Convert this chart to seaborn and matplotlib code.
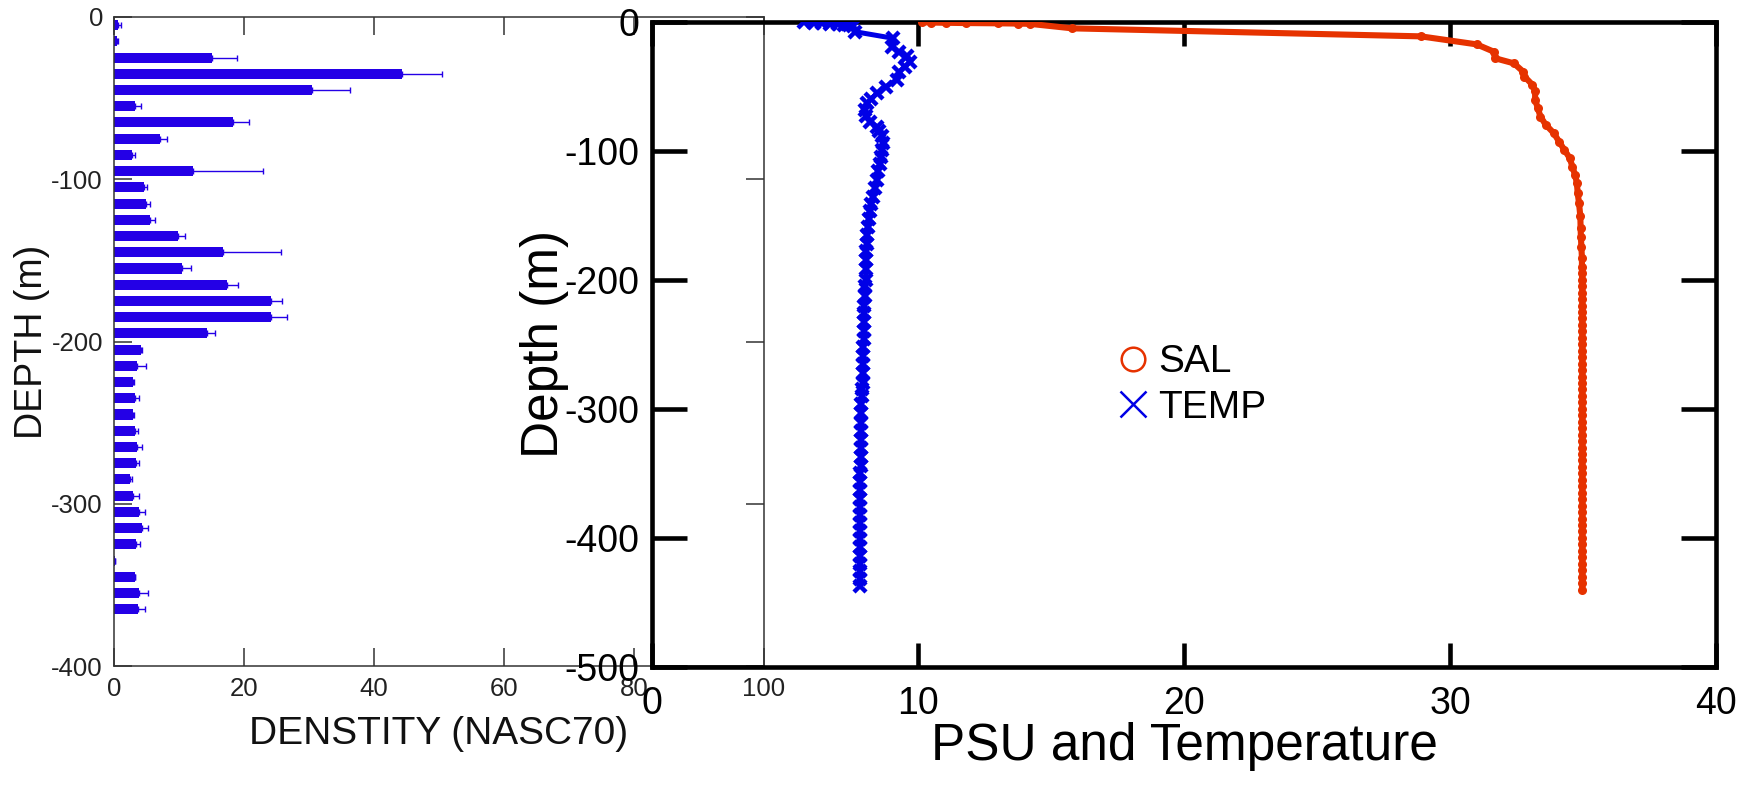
import numpy as np
import pandas as pd
import matplotlib
matplotlib.use("Agg")
import matplotlib.pyplot as plt
import seaborn as sns
from matplotlib.lines import Line2D

# ---------------- data: left panel (acoustic density by 10 m bin) ----------------
bin_depth = [-5, -15, -25, -35, -45, -55, -65, -75, -85, -95,
             -105, -115, -125, -135, -145, -155, -165, -175, -185, -195,
             -205, -215, -225, -235, -245, -255, -265, -275, -285, -295,
             -305, -315, -325, -335, -345, -355, -365]
density = [0.6, 0.4, 15.0, 44.3, 30.5, 3.2, 18.3, 7.0, 2.7, 12.2,
           4.6, 4.9, 5.5, 9.8, 16.8, 10.4, 17.4, 24.2, 24.2, 14.3,
           4.2, 3.6, 2.9, 3.3, 2.9, 3.2, 3.5, 3.4, 2.4, 2.9,
           3.9, 4.3, 3.4, 0.1, 3.2, 3.9, 3.7]
density_err = [0.5, 0.2, 3.9, 6.2, 5.8, 1.0, 2.4, 1.2, 0.6, 10.7,
               0.5, 0.6, 0.8, 1.1, 8.9, 1.5, 1.6, 1.7, 2.4, 1.2,
               0.1, 1.3, 0.2, 0.6, 0.2, 0.5, 0.8, 0.5, 0.3, 1.0,
               0.9, 0.9, 0.6, 0.0, 0.1, 1.3, 1.1]

# ---------------- data: right panel (CTD profile) ----------------
sal_depth = [-0.5, -0.8, -1.0, -1.2, -1.4, -1.6, -1.8, -5.3, -11.5, -17.7,
             -23.4, -28.5, -32.4, -38.8, -42.7, -49.0, -54.0, -60.7, -67.0, -73.7,
             -80.0, -86.4, -93.0, -99.5, -105.7, -112.4, -118.8, -125.0, -133.0, -140.5,
             -151.0, -160.0, -166.6, -175.0, -183.0, -190, -195, -200, -205, -210,
             -215, -220, -225, -230, -235, -240, -245, -250, -255, -260,
             -265, -270, -275, -280, -285, -290, -295, -300, -305, -310,
             -315, -320, -325, -330, -335, -340, -345, -350, -355, -360,
             -365, -370, -375, -380, -385, -390, -395, -400, -405, -410,
             -415, -420, -425, -430, -435, -440]
sal = [10.15, 10.5, 11.05, 11.8, 13.0, 13.76, 14.2, 15.8, 28.9, 31.0,
       31.65, 31.7, 32.4, 32.75, 32.8, 33.1, 33.2, 33.2, 33.3, 33.4,
       33.6, 33.9, 34.1, 34.3, 34.5, 34.6, 34.7, 34.77, 34.8, 34.85,
       34.9, 34.91, 34.92, 34.94, 34.96, 34.96, 34.96, 34.97, 34.97, 34.97,
       34.97, 34.97, 34.97, 34.97, 34.97, 34.97, 34.97, 34.97, 34.97, 34.97,
       34.97, 34.97, 34.97, 34.97, 34.97, 34.97, 34.97, 34.97, 34.97, 34.97,
       34.97, 34.97, 34.97, 34.97, 34.97, 34.97, 34.97, 34.97, 34.97, 34.97,
       34.97, 34.97, 34.97, 34.97, 34.97, 34.97, 34.97, 34.97, 34.97, 34.97,
       34.97, 34.97, 34.97, 34.97, 34.97, 34.97]

temp_depth = [-0.3, -0.8, -1.2, -1.6, -2.0, -2.5, -3.0, -3.5, -7.9, -13.0,
              -19.5, -24.0, -27.0, -31.0, -35.0, -38.9, -45.0, -50.5, -55.7, -60.0,
              -63.3, -68.5, -73.0, -77.5, -81.5, -85.0, -89.0, -94.0, -99.5, -105.0,
              -110.0, -116.0, -123.0, -129.0, -136.0, -141.0, -146.5, -153.0, -159.0, -165.0,
              -172.0, -178.0, -185.0, -192.0, -200.0, -205.0, -213.0, -220.0, -226.0, -233.0,
              -240.0, -246.0, -252.0, -259.0, -265.0, -272.0, -280.0, -285.0, -290.0, -296.0,
              -303.0, -311.0, -317.0, -324.0, -330.0, -337.0, -344.0, -350.0, -357.0, -363.0,
              -370.0, -376.0, -382.0, -388.5, -395.0, -401.0, -407.0, -414.0, -420.0, -426.0,
              -432.0, -437.5]
temp = [5.7, 6.1, 6.4, 6.7, 7.0, 7.2, 7.4, 7.55, 7.63, 9.07,
        9.02, 9.3, 9.6, 9.7, 9.5, 9.3, 9.2, 8.8, 8.45, 8.25,
        8.08, 8.0, 8.05, 8.2, 8.45, 8.55, 8.65, 8.68, 8.65, 8.6,
        8.57, 8.5, 8.45, 8.38, 8.3, 8.25, 8.2, 8.15, 8.12, 8.1,
        8.07, 8.06, 8.05, 8.05, 8.05, 8.02, 8.0, 7.98, 7.98, 7.97,
        7.96, 7.96, 7.95, 7.95, 7.95, 7.95, 7.95, 7.9, 7.88, 7.87,
        7.86, 7.85, 7.85, 7.85, 7.85, 7.85, 7.84, 7.83, 7.83, 7.82,
        7.82, 7.82, 7.82, 7.82, 7.82, 7.82, 7.82, 7.82, 7.82, 7.82,
        7.82, 7.82]

left_xticks = [0, 20, 40, 60, 80, 100]
left_yticks = [0, -100, -200, -300, -400]
right_xticks = [0, 10, 20, 30, 40]
right_yticks = [0, -100, -200, -300, -400, -500]

# ---------------- style ----------------
sns.set_theme(style="white")
plt.rcParams["font.family"] = ["Liberation Sans", "DejaVu Sans"]

BAR_C = "#2400e6"
SAL_C = "#e63200"
TEMP_C = "#0000e6"
GREY = "#333333"

W, H = 1739, 785
fig = plt.figure(figsize=(W / 100, H / 100), dpi=100)
fig.patch.set_facecolor("white")

def frac(x0, y0, x1, y1):
    return [x0 / W, 1 - y1 / H, (x1 - x0) / W, (y1 - y0) / H]

ax1 = fig.add_axes(frac(114, 17, 764, 666))
ax2 = fig.add_axes(frac(652, 21.5, 1716, 667))
ax2.patch.set_alpha(0)

# ---------------- left panel ----------------
df_bar = pd.DataFrame({"depth": bin_depth, "density": density, "err": density_err})
sns.barplot(data=df_bar, x="density", y="depth", orient="h", native_scale=True,
            color=BAR_C, saturation=1, width=0.62, errorbar=None, linewidth=0, ax=ax1)
ax1.errorbar(df_bar["density"], df_bar["depth"],
             xerr=[np.zeros(len(df_bar)), df_bar["err"]],
             fmt="none", ecolor=BAR_C, elinewidth=1.0, capsize=2.0, capthick=1.0)
ax1.set_xlim(0, 100)
ax1.set_ylim(-400, 0)
ax1.set_xticks(left_xticks)
ax1.set_yticks(left_yticks)
ax1.set_xticklabels([str(v) for v in left_xticks])
ax1.set_yticklabels([str(v) for v in left_yticks])
for s in ax1.spines.values():
    s.set_visible(True)
    s.set_color(GREY)
    s.set_linewidth(1.1)
ax1.tick_params(axis="both", direction="in", length=13, width=1.1, color=GREY,
                labelsize=18.5, labelcolor="#222222", top=True, right=True,
                bottom=True, left=True, pad=8)
ax1.set_xlabel("DENSTITY (NASC70)", fontsize=28, color="#111111", labelpad=11)
ax1.set_ylabel("DEPTH (m)", fontsize=27, color="#111111", labelpad=1)
ax1.grid(False)

# ---------------- right panel ----------------
df_sal = pd.DataFrame({"depth": sal_depth, "value": sal})
df_temp = pd.DataFrame({"depth": temp_depth, "value": temp})
sns.lineplot(data=df_sal, x="value", y="depth", orient="y", sort=False, estimator=None,
             color=SAL_C, linewidth=4.4, marker="o", markersize=6.5, markeredgewidth=0,
             markerfacecolor=SAL_C, ax=ax2, legend=False, zorder=3)
sns.lineplot(data=df_temp, x="value", y="depth", orient="y", sort=False, estimator=None,
             color=TEMP_C, linewidth=3.6, marker="x", markersize=8, markeredgewidth=3.2,
             markeredgecolor=TEMP_C, markerfacecolor=TEMP_C, ax=ax2, legend=False, zorder=3)
ax2.set_xlim(0, 40)
ax2.set_ylim(-500, 0)
ax2.set_xticks(right_xticks)
ax2.set_yticks(right_yticks)
ax2.set_xticklabels([str(v) for v in right_xticks])
ax2.set_yticklabels([str(v) for v in right_yticks])
for s in ax2.spines.values():
    s.set_visible(True)
    s.set_color("black")
    s.set_linewidth(3.3)
ax2.tick_params(axis="y", direction="in", length=25, width=3.3, color="black",
                labelsize=27, labelcolor="black", left=True, right=True, pad=9)
ax2.tick_params(axis="x", direction="in", length=17, width=3.3, color="black",
                labelsize=27, labelcolor="black", top=True, bottom=True, pad=14)
ax2.set_xlabel("PSU and Temperature", fontsize=37, color="black", labelpad=0)
ax2.set_ylabel("Depth (m)", fontsize=37, color="black", labelpad=-3)
ax2.grid(False)

handles = [
    Line2D([], [], linestyle="none", marker="o", markersize=17, markerfacecolor="none",
           markeredgecolor=SAL_C, markeredgewidth=1.8),
    Line2D([], [], linestyle="none", marker="x", markersize=19,
           markeredgecolor=TEMP_C, markeredgewidth=1.8),
]
ax2.legend(handles, ["SAL", "TEMP"], loc="center left",
           bbox_to_anchor=(1094 / W, 1 - 385 / H), bbox_transform=fig.transFigure,
           frameon=False, fontsize=28, handlelength=1.0, handletextpad=0.15,
           labelspacing=0.25, borderpad=0, labelcolor="black")

fig.savefig("out.png", dpi=100, facecolor="white")
